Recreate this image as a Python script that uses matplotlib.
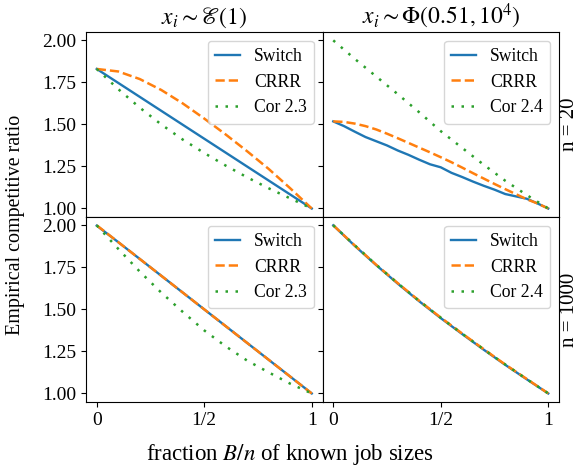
import matplotlib
matplotlib.use('Agg')
import matplotlib.pyplot as plt

plt.rcParams['font.family'] = 'serif'
plt.rcParams['font.serif'] = ['Liberation Serif', 'DejaVu Serif']
plt.rcParams['mathtext.fontset'] = 'stix'
plt.rcParams['font.size'] = 14
plt.rcParams['legend.fontsize'] = 12.7
plt.rcParams['axes.titlesize'] = 17

# x positions: B/n
x_tenths = [0.0, 0.1, 0.2, 0.3, 0.4, 0.5, 0.6, 0.7, 0.8, 0.9, 1.0]
x_twenty = [k / 20 for k in range(21)]

# exponential, n = 20
exp20_switch = [1.83, 1.747, 1.664, 1.581, 1.498, 1.415, 1.332, 1.249, 1.166, 1.083, 1.0]
exp20_crrr = [1.83, 1.815, 1.77, 1.705, 1.625, 1.535, 1.44, 1.34, 1.235, 1.12, 1.0]
exp20_cor = [1.83, 1.71, 1.60, 1.50, 1.41, 1.33, 1.255, 1.185, 1.12, 1.06, 1.0]

# pareto-like, n = 20
phi20_switch = [1.518, 1.49, 1.457, 1.425, 1.400, 1.375, 1.345, 1.319, 1.290, 1.263, 1.245,
                1.212, 1.187, 1.160, 1.135, 1.112, 1.086, 1.072, 1.058, 1.030, 1.0]
phi20_crrr = [1.518, 1.515, 1.505, 1.49, 1.47, 1.445, 1.418, 1.39, 1.362, 1.334, 1.305,
              1.275, 1.243, 1.21, 1.178, 1.146, 1.115, 1.085, 1.055, 1.03, 1.0]
phi20_cor = [2.0, 1.89, 1.785, 1.68, 1.572, 1.46, 1.36, 1.26, 1.165, 1.08, 1.0]

# exponential, n = 1000
exp1000_switch = [1.998, 1.90, 1.80, 1.70, 1.60, 1.50, 1.40, 1.30, 1.20, 1.10, 1.0]
exp1000_crrr = [2.0, 1.90, 1.80, 1.70, 1.60, 1.50, 1.40, 1.30, 1.20, 1.10, 1.0]
exp1000_cor = [2.0, 1.86, 1.725, 1.60, 1.485, 1.375, 1.28, 1.195, 1.125, 1.058, 1.0]

# pareto-like, n = 1000
phi1000_switch = [2.0, 1.878, 1.763, 1.653, 1.548, 1.448, 1.353, 1.26, 1.17, 1.084, 1.0]
phi1000_crrr = [2.0, 1.88, 1.765, 1.656, 1.551, 1.451, 1.356, 1.263, 1.172, 1.086, 1.0]
phi1000_cor = [2.0, 1.881, 1.765, 1.655, 1.55, 1.45, 1.355, 1.262, 1.172, 1.085, 1.0]

col_titles = [r'$x_i \sim \mathscr{E}(1)$', r'$x_i \sim \Phi(0.51, 10^4)$']
row_labels = ['n = 20', 'n = 1000']
cor_names = ['Cor 2.3', 'Cor 2.4']

panels = [
    [(x_tenths, exp20_switch, x_tenths, exp20_crrr, x_tenths, exp20_cor),
     (x_twenty, phi20_switch, x_twenty, phi20_crrr, x_tenths, phi20_cor)],
    [(x_tenths, exp1000_switch, x_tenths, exp1000_crrr, x_tenths, exp1000_cor),
     (x_tenths, phi1000_switch, x_tenths, phi1000_crrr, x_tenths, phi1000_cor)],
]

fig, axes = plt.subplots(2, 2, sharex=True, sharey=True, figsize=(5.79, 4.70), dpi=100)
fig.subplots_adjust(left=0.1485, right=0.9655, top=0.932, bottom=0.145, hspace=0, wspace=0)

for i in range(2):
    for j in range(2):
        ax = axes[i, j]
        xs, ys, xc, yc, xg, yg = panels[i][j]
        ax.plot(xs, ys, color='tab:blue', lw=1.7, label='Switch')
        ax.plot(xc, yc, color='tab:orange', lw=1.8, linestyle='--', label='CRRR')
        ax.plot(xg, yg, color='tab:green', lw=1.8, linestyle=(0, (1, 3)), label=cor_names[j])
        ax.legend(loc='upper right', handlelength=1.4)
        if i == 0:
            ax.set_title(col_titles[j])

# row labels on the right
for i in range(2):
    pos = axes[i, 1].get_position()
    fig.text(0.983, (pos.y0 + pos.y1) / 2, row_labels[i], rotation=90,
             ha='center', va='center', fontsize=15)

axes[0, 0].set_yticks([1.0, 1.25, 1.5, 1.75, 2.0])
axes[0, 0].set_xticks([0, 0.5, 1])
axes[0, 0].set_xticklabels(['0', '1/2', '1'])

fig.text(0.5, 0.032, r'fraction $B/n$ of known job sizes', ha='center', va='center', fontsize=16.5)
fig.text(0.027, 0.521, 'Empirical competitive ratio', rotation=90, ha='center', va='center', fontsize=14.4)

plt.savefig('out.png')
